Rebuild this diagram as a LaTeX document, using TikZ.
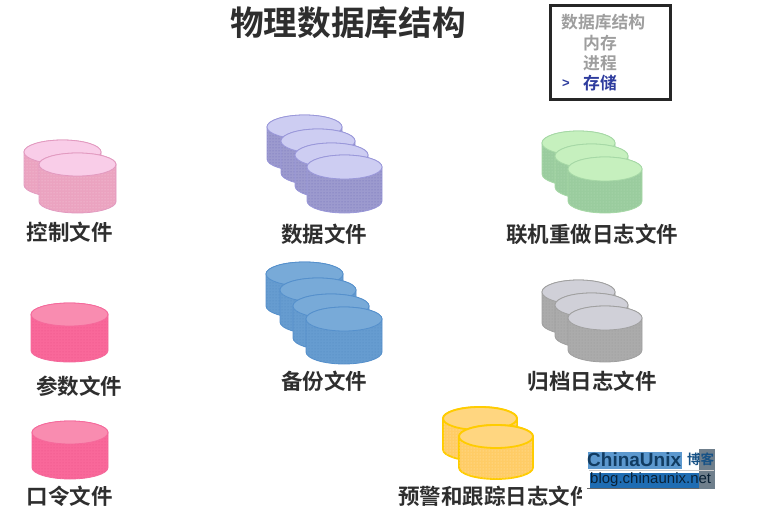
\documentclass[tikz,border=0pt]{standalone}
\usepackage{fontspec}
\usetikzlibrary{patterns}
\setmainfont{Noto Sans CJK SC}[BoldFont={* Bold}]
\setsansfont{Liberation Sans}
\definecolor{pkB}{HTML}{EBA3C0}\definecolor{pkT}{HTML}{F9CDE8}\definecolor{pkE}{HTML}{E29AC0}\definecolor{pkD}{HTML}{F7D0E0}
\definecolor{puB}{HTML}{9C9ACE}\definecolor{puT}{HTML}{CDCDF2}\definecolor{puE}{HTML}{9A98DA}\definecolor{puD}{HTML}{6E6CB8}
\definecolor{grB}{HTML}{9ACC9E}\definecolor{grT}{HTML}{C6F0BE}\definecolor{grE}{HTML}{A6D8A6}\definecolor{grD}{HTML}{B8E0B8}
\definecolor{blB}{HTML}{669CD0}\definecolor{blT}{HTML}{78AAD8}\definecolor{blE}{HTML}{5590CC}\definecolor{blD}{HTML}{5088C0}
\definecolor{gyB}{HTML}{ABABAB}\definecolor{gyT}{HTML}{D0D0D8}\definecolor{gyE}{HTML}{A0A0A0}\definecolor{gyD}{HTML}{989898}
\definecolor{hpB}{HTML}{F9689A}\definecolor{hpT}{HTML}{F98CB0}\definecolor{hpE}{HTML}{F56A9C}\definecolor{hpD}{HTML}{E85088}
\definecolor{yeB}{HTML}{FFCC66}\definecolor{yeT}{HTML}{FFD680}\definecolor{yeE}{HTML}{FFCC00}\definecolor{yeD}{HTML}{FFE8B0}
\definecolor{cuB}{HTML}{1F6DB3}\definecolor{cuL}{HTML}{5C98CE}\definecolor{cuG}{HTML}{6F7F8C}\definecolor{menuB}{HTML}{2E3C9E}
% \cyl[edge width]{left}{right}{top y}{bottom y}{ry}{palette}
\newcommand{\cyl}[7][.8pt]{%
  \pgfmathsetmacro{\cx}{(#2+#3)/2}\pgfmathsetmacro{\rx}{(#3-#2)/2}%
  \pgfmathsetmacro{\cy}{#4+#6}\pgfmathsetmacro{\by}{#5-#6}%
  \draw[fill=#7B,draw=#7E,line width=#1,postaction={pattern=dots,pattern color=#7D}] (#2,\cy) -- (#2,\by) arc[start angle=180,end angle=0,x radius=\rx,y radius=#6] -- (#3,\cy) arc[start angle=0,end angle=-180,x radius=\rx,y radius=#6] -- cycle;%
  \draw[fill=#7T,draw=#7E,line width=#1] (\cx,\cy) ellipse[x radius=\rx,y radius=#6];%
}
\tikzset{
  lbl/.style={font=\bfseries\fontsize{21.5}{22}\selectfont,text=black!82,inner sep=0pt,anchor=center},
  menuitem/.style={font=\bfseries\fontsize{16.8}{17}\selectfont,text=black!38,inner sep=0pt,anchor=west}
}
\begin{document}
\begin{tikzpicture}[x=1pt,y=-1pt]
\useasboundingbox (0,0) rectangle (761,514);
\fill[white] (0,0) rectangle (761,514);
% title
\node[font=\bfseries\fontsize{33.7}{34}\selectfont,text=black!82,inner sep=0pt] (title) at (348,23) {物理数据库结构};
% menu
\draw[line width=3.4pt,draw=black!85,fill=white] (550.7,5.7) rectangle (670.7,99.3);
\node[menuitem] (m0) at (561,22) {数据库结构};
\node[menuitem] (m1) at (583,43) {内存};
\node[menuitem] (m2) at (583,63) {进程};
\node[menuitem,text=menuB] (m3) at (583,83) {存储};
\node[font=\sffamily\bfseries\fontsize{13}{13}\selectfont,text=menuB,inner sep=0pt] (m3a) at (566,84) {>};
% control
\cyl{24}{101}{140}{197}{12}{pk}
\cyl{39}{116}{153}{213}{11.5}{pk}
\node[lbl] (l1) at (70,232) {控制文件};
% data
\cyl{267}{342}{115}{171}{12}{pu}
\cyl{281}{355}{129}{185}{12}{pu}
\cyl{295}{368}{143}{198}{12}{pu}
\cyl{307}{382}{155}{213}{12}{pu}
\node[lbl] (l2) at (324,234) {数据文件};
% online redo
\cyl{542}{615}{131}{186}{12}{gr}
\cyl{555}{628}{144}{199}{12}{gr}
\cyl{568}{642}{157}{213}{12}{gr}
\node[lbl] (l3) at (592,234) {联机重做日志文件};
% param
\cyl{31}{108}{303}{362}{11.5}{hp}
\node[lbl] (l4) at (79,386) {参数文件};
% backup
\cyl{266}{343}{262}{318}{12}{bl}
\cyl{280}{356}{278}{334}{12}{bl}
\cyl{293}{369}{294}{350}{12}{bl}
\cyl{306}{382}{307}{364}{12}{bl}
\node[lbl] (l5) at (324,381) {备份文件};
% archive
\cyl{542}{615}{280}{335}{12}{gy}
\cyl{555}{628}{293}{348}{12}{gy}
\cyl{568}{642}{306}{362}{12}{gy}
\node[lbl] (l6) at (592,381) {归档日志文件};
% password
\cyl{32}{108}{421}{479}{11.5}{hp}
\node[lbl] (l7) at (70,496) {口令文件};
% alert
\cyl[1.8pt]{443}{517}{407}{461}{11.5}{ye}
\cyl[1.8pt]{459}{533}{425}{479}{11.5}{ye}
\begin{scope}
\clip (390,480) rectangle (581,514);
\node[lbl,anchor=west] (l8) at (398,496) {预警和跟踪日志文件};
\end{scope}
% watermark
\fill[cuG] (699,449) rectangle (715,489);
\fill[cuL] (588,452) rectangle (682,469);
\fill[cuB] (590,473) rectangle (699,488);
\draw[black!60,line width=.6pt] (587,488.5) -- (699,488.5);
\draw[black!20,line width=.8pt] (589,470) -- (714,470);
\node[font=\sffamily\bfseries\fontsize{19}{19}\selectfont,text=black!45!cuB,inner sep=0pt,anchor=west] (wm1) at (587,460) {ChinaUnix};
\node[font=\bfseries\fontsize{13.5}{14}\selectfont,text=black!25!cuB,inner sep=0pt,anchor=west] (wm2) at (687,459) {博客};
\node[font=\sffamily\fontsize{15}{15}\selectfont,text=black!70!cuB,inner sep=0pt,anchor=west] (wm3) at (590,480) {blog.chinaunix.net};
\end{tikzpicture}
\end{document}
